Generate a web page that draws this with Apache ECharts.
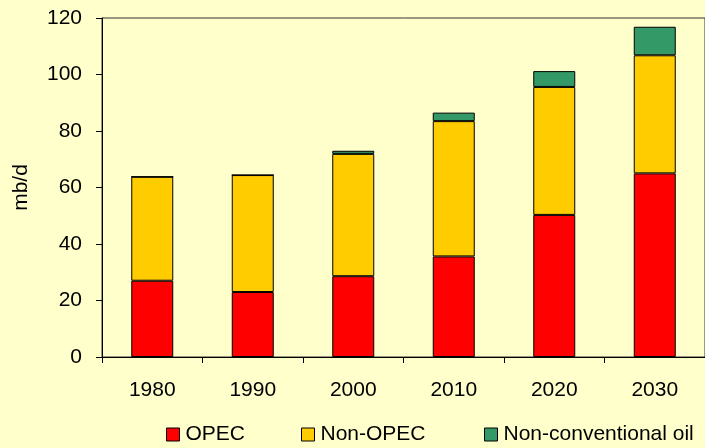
<!DOCTYPE html>
<html>
<head>
<meta charset="utf-8">
<script src="https://cdn.jsdelivr.net/npm/echarts@6/dist/echarts.min.js"></script>
<style>
html,body{margin:0;padding:0;background:#FFFFCC;}
#c{width:705px;height:448px;}
</style>
</head>
<body>
<div id="c"></div>
<script>
const categories = ['1980', '1990', '2000', '2010', '2020', '2030'];
const opec = [27, 23, 28.6, 35.6, 50.3, 65];
const nonOpec = [36.8, 41.4, 43.3, 47.9, 45.3, 41.8];
const nonConventional = [0, 0, 1.1, 3.0, 5.6, 10.1];
const seriesNames = ['OPEC', 'Non-OPEC', 'Non-conventional oil'];
const yTicks = [0, 20, 40, 60, 80, 100, 120];

const colors = ['#FF0000', '#FFCC00', '#339966'];
const font = 'Liberation Sans, Arial, sans-serif';
const fs = 21;
const chart = echarts.init(document.getElementById('c'));

function legendAt(name, left) {
  return {
    data: [name], left: left, top: 419, itemWidth: 13, itemHeight: 13,
    icon: 'rect',
    textStyle: {fontSize: fs, fontFamily: font, color: '#000', padding: [0, 0, 0, 1]},
    itemStyle: {borderColor: '#000', borderWidth: 1}
  };
}

chart.setOption({
  backgroundColor: '#FFFFCC',
  animation: false,
  color: colors,
  grid: {left: 102, top: 18, width: 603, bottom: 91, show: true, borderColor: '#333', borderWidth: 1, backgroundColor: 'transparent'},
  legend: [legendAt(seriesNames[0], 161), legendAt(seriesNames[1], 296), legendAt(seriesNames[2], 479)],
  xAxis: {
    type: 'category', data: categories,
    axisLine: {lineStyle: {color: '#000', width: 1}},
    axisTick: {show: true, length: 6, lineStyle: {color: '#000'}},
    axisLabel: {fontSize: fs, fontFamily: font, color: '#000', margin: 23}
  },
  yAxis: {
    type: 'value', min: yTicks[0], max: yTicks[yTicks.length - 1], interval: 20,
    name: 'mb/d', nameLocation: 'middle', nameGap: 70,
    nameTextStyle: {fontSize: fs, fontFamily: font, color: '#000'},
    axisLine: {show: true, lineStyle: {color: '#000', width: 1}},
    axisTick: {show: true, length: 6, lineStyle: {color: '#000'}},
    splitLine: {show: false},
    axisLabel: {fontSize: fs, fontFamily: font, color: '#000', margin: 20}
  },
  series: [
    {name: seriesNames[0], type: 'bar', stack: 'a', data: opec, barWidth: 42, itemStyle: {color: colors[0], borderColor: '#000', borderWidth: 1}},
    {name: seriesNames[1], type: 'bar', stack: 'a', data: nonOpec, barWidth: 42, itemStyle: {color: colors[1], borderColor: '#000', borderWidth: 1}},
    {name: seriesNames[2], type: 'bar', stack: 'a', data: nonConventional, barWidth: 42, itemStyle: {color: colors[2], borderColor: '#000', borderWidth: 1}}
  ]
});
</script>
</body>
</html>
